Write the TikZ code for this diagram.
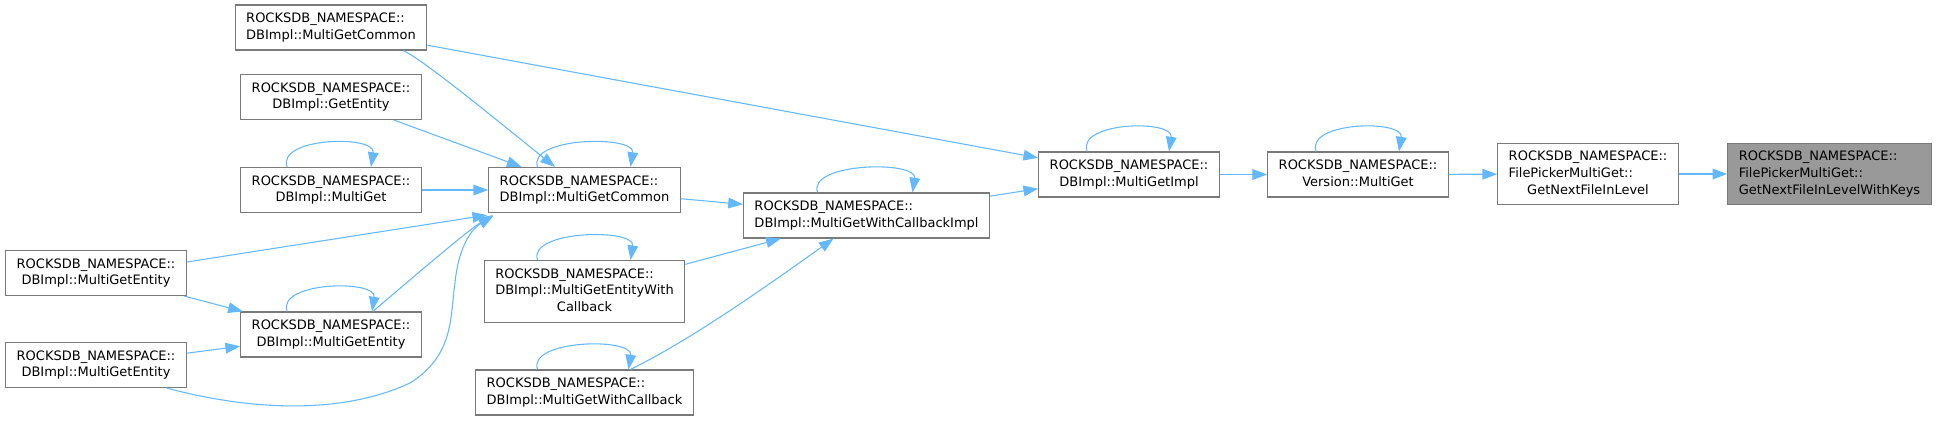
\documentclass[tikz,border=0pt]{standalone}
\usepackage{fontspec}
\setmainfont{DejaVu Sans}
\usetikzlibrary{arrows.meta,calc}
\definecolor{edgeblue}{HTML}{63B8FF}
\definecolor{boxgray}{HTML}{7A7A7A}
\definecolor{hlgray}{HTML}{999999}
\newcommand{\rns}{ROCKSDB\_NAMESPACE::}
\newcommand{\twol}[2]{\begin{tabular}{@{}l@{}}#1\\\multicolumn{1}{@{}c@{}}{#2}\end{tabular}}
\newcommand{\threel}[3]{\begin{tabular}{@{}l@{}}#1\\#2\\\multicolumn{1}{@{}c@{}}{#3}\end{tabular}}

\begin{document}
\begin{tikzpicture}[x=0.75pt,y=-0.75pt,
    fn/.style={draw=boxgray,line width=0.9pt,fill=white,inner xsep=8.25pt,inner ysep=4.375pt,
               font={\fontsize{9.75}{12.5}\selectfont}},
    fnhl/.style={fn,fill=hlgray},
    callarrow/.style={draw=edgeblue,line width=0.8pt,-{Triangle[length=11pt,width=8pt]}}]
                    \useasboundingbox (0,0) rectangle (1937,421);
                    % callers, left column
                    \node [fn] (n1) at (331,27.5)  {\twol{\rns}{DBImpl::MultiGetCommon}};
                    \node [fn] (n2) at (331,97)    {\twol{\rns}{DBImpl::GetEntity}};
                    \node [fn] (n3) at (331,190)   {\twol{\rns}{DBImpl::MultiGet}};
                    \node [fn] (n4) at (96,273)    {\twol{\rns}{DBImpl::MultiGetEntity}};
                    \node [fn] (n5) at (331,334.5) {\twol{\rns}{DBImpl::MultiGetEntity}};
                    \node [fn] (n6) at (96,365)    {\twol{\rns}{DBImpl::MultiGetEntity}};
                    % middle
                    \node [fn] (n7) at (584.5,190)   {\twol{\rns}{DBImpl::MultiGetCommon}};
                    \node [fn] (n8) at (584.5,291.5) {\threel{\rns}{DBImpl::MultiGetEntityWith}{Callback}};
                    \node [fn] (n9) at (584.5,392.5) {\twol{\rns}{DBImpl::MultiGetWithCallback}};
                    \node [fn] (n10) at (866.5,215.5) {\twol{\rns}{DBImpl::MultiGetWithCallbackImpl}};
                    % right chain
                    \node [fn] (n11) at (1129,174.5) {\twol{\rns}{DBImpl::MultiGetImpl}};
                    \node [fn] (n12) at (1358,174.5) {\twol{\rns}{Version::MultiGet}};
                    \node [fn] (n13) at (1588,174)   {\threel{\rns}{FilePickerMultiGet::}{GetNextFileInLevel}};
                    \node [fnhl] (n14) at (1829.5,174) {\threel{\rns}{FilePickerMultiGet::}{GetNextFileInLevelWithKeys}};
                    % calls
                    \draw [callarrow] (n1) -- (n11);
                    \draw [callarrow] (n10) -- (n11);
                    \draw [callarrow] (n11) -- (n12);
                    \draw [callarrow] (n12) -- (n13);
                    \draw [callarrow] (n13) -- (n14);
                    \draw [callarrow] (n7) -- (n10);
                    \draw [callarrow] (n8) -- (n10);
                    \draw [callarrow] ($(n9.north)+(46,0)$) .. controls +(59,-29) and +(-73,52) .. ($(n10.south)+(-33,0)$);
                    \draw [callarrow] (n2) -- (n7);
                    \draw [callarrow] (n3) -- (n7);
                    \draw [callarrow] ($(n1.south)+(72,0)$) .. controls +(18,7) and +(-50,-40) .. ($(n7.north)+(-29.5,0)$);
                    \draw [callarrow] ($(n4.east)+(0,-11)$) -- ($(n7.south west)+(-1,2)$);
                    \draw [callarrow] ($(n5.north)+(42,0)$) .. controls +(35,-30) and +(-25,15) .. ($(n7.south west)+(5,2)$);
                    \draw [callarrow] ($(n6.south)+(71,0)$) .. controls (230,405) and (330,420) .. (410,383)
                                      .. controls (455,355) and (450,315) .. (455,283)
                                      .. controls (458,250) and (470,230) .. ($(n7.south west)+(5,3)$);
                    \draw [callarrow] (n4) -- (n5);
                    \draw [callarrow] (n6) -- (n5);
                    % recursive calls
                    \foreach \n/\a/\b in {n3/44/40, n5/44/41, n7/47/46, n8/47/46, n9/47/44, n10/49/46, n11/42/40, n12/42/41}
                        \draw [callarrow] ($(\n.north)+(-\a,0)$) .. controls +(-10,-30) and +(5,-32) .. ($(\n.north)+(\b,0)$);
                \end{tikzpicture}
\end{document}
